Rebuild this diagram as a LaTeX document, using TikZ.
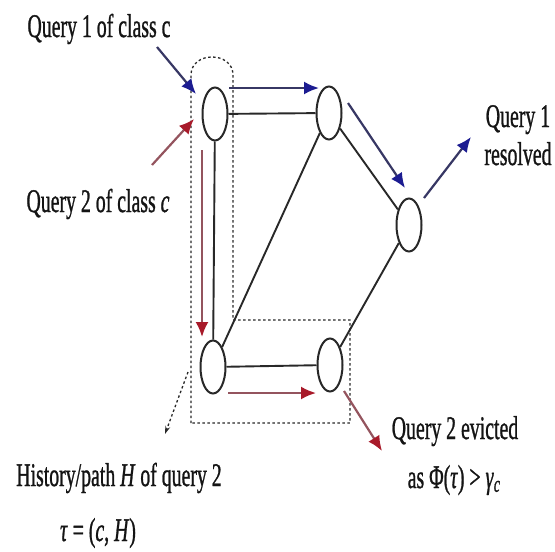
\documentclass[tikz,border=0pt]{standalone}
\usepackage{fontspec}
\setmainfont{Liberation Serif}[FakeBold=1.2]
\usetikzlibrary{shapes.geometric,arrows.meta}
\definecolor{qblue}{RGB}{28,28,145}
\definecolor{qred}{RGB}{168,26,42}
\definecolor{bshaft}{RGB}{55,55,100}
\definecolor{rshaft}{RGB}{148,84,94}
\definecolor{edgec}{RGB}{40,40,40}
\newcommand{\sqz}[1]{\scalebox{0.60}[1]{#1}}
\begin{document}
\begin{tikzpicture}[x=1pt,y=-1pt,
  nd/.style={ellipse,draw=edgec,line width=2pt,fill=white,minimum width=25pt,minimum height=53pt,inner sep=0pt},
  edge/.style={draw=edgec,line width=1.9pt},
  barrow/.style={line width=2.2pt,draw=bshaft,-{Latex[length=15pt,width=13pt,color=qblue]}},
  rarrow/.style={line width=2.2pt,draw=rshaft,-{Latex[length=15pt,width=13pt,color=qred]}},
  lbl/.style={font=\fontsize{33}{38}\selectfont,inner sep=0pt,anchor=base,text=black!92},
  hist/.style={draw=edgec,line width=1.3pt,dash pattern=on 2.5pt off 2.5pt}]
\useasboundingbox[fill=white] (0,0) rectangle (555,552);

% history region
\draw[hist] (191,423) -- (191,75) .. controls (191,51) and (233,51) .. (233,75)
  -- (233,320) -- (350,320) -- (350,423) -- cycle;
\coordinate (hs) at (188,372);
\coordinate (he) at (165,434);
\draw[hist,-{Stealth[length=8pt,width=5pt]}] (hs) -- (he);

% nodes
\node[nd] (A) at (215,114) {};
\node[nd] (B) at (329,113) {};
\node[nd] (C) at (409,225) {};
\node[nd] (D) at (213,367) {};
\node[nd] (E) at (330,365) {};

% edges
\draw[edge] (A) -- (B);
\draw[edge] (A) -- (D);
\draw[edge] (B) -- (D);
\draw[edge] (B) -- (C);
\draw[edge] (C) -- (E);
\draw[edge] (D) -- (E);

% blue path of query 1
\coordinate (b1s) at (157,47);  \coordinate (b1e) at (196,94);
\coordinate (b2s) at (229,88);  \coordinate (b2e) at (319,88);
\coordinate (b3s) at (348,103); \coordinate (b3e) at (405,188);
\coordinate (b4s) at (424,198); \coordinate (b4e) at (471,137);
\draw[barrow] (b1s) -- (b1e);
\draw[barrow] (b2s) -- (b2e);
\draw[barrow] (b3s) -- (b3e);
\draw[barrow] (b4s) -- (b4e);

% red path of query 2
\coordinate (r1s) at (152,165); \coordinate (r1e) at (194,119);
\coordinate (r2s) at (202,150); \coordinate (r2e) at (202,337);
\coordinate (r3s) at (228,393); \coordinate (r3e) at (316,393);
\coordinate (r4s) at (344,391); \coordinate (r4e) at (382,451);
\draw[rarrow] (r1s) -- (r1e);
\draw[rarrow] (r2s) -- (r2e);
\draw[rarrow] (r3s) -- (r3e);
\draw[rarrow] (r4s) -- (r4e);

% labels
\node[lbl] (l1) at (99,37) {\sqz{Query 1 of class c}};
\node[lbl] (l2) at (98,212) {\sqz{Query 2 of class \textit{c}}};
\node[lbl] (l3) at (518,127) {\sqz{Query 1}};
\node[lbl] (l4) at (518,165) {\sqz{resolved}};
\node[lbl] (l5) at (455,439) {\sqz{Query 2 evicted}};
\node[lbl] (l6) at (454,488) {\sqz{as Φ(\textit{τ}) > \textit{γ}\textsubscript{\textit{c}}}};
\node[lbl] (l7) at (119,486) {\sqz{History/path \textit{H} of query 2}};
\node[lbl] (l8) at (98,541) {\sqz{\textit{τ} = (\textit{c}, \textit{H})}};
\end{tikzpicture}
\end{document}
